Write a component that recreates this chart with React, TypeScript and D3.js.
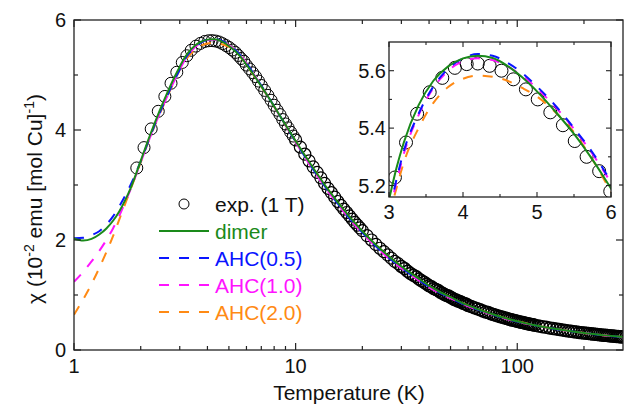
import React from 'react';
import * as d3 from 'd3';

// ---- experimental data (exp. 1 T) ----
const expT = [1.92, 2.07, 2.23, 2.40, 2.57, 2.74, 2.91, 3.08, 3.23, 3.38, 3.55, 3.72, 3.89, 4.05, 4.20, 4.36, 4.52, 4.68, 4.85, 5.01, 5.18, 5.35, 5.51, 5.67, 5.84, 5.99,
  6.2, 6.4, 6.6, 6.8, 7.0, 7.25, 7.5, 7.75, 8.0, 8.25, 8.5, 8.75, 9.0, 9.25, 9.5, 9.75, 10,
  10.5, 11, 11.5, 12, 12.5, 13, 13.5, 14, 14.5, 15, 15.5, 16, 16.5, 17, 17.5, 18, 18.5, 19, 19.5, 20,
  21, 22, 23, 24, 25, 26, 27, 28, 29, 30, 31, 32, 33, 34, 35, 36, 37, 38, 39, 40,
  41, 42, 43, 44, 45, 46, 47, 48, 49, 50, 51, 52, 53, 54, 55, 56, 57, 58, 59, 60,
  62, 64, 66, 68, 70, 72, 74, 76, 78, 80, 82, 84, 86, 88, 90, 92, 94, 96, 98, 100,
  102, 104, 106, 108, 110, 112, 114, 116, 118, 120,
  125, 130, 135, 140, 145, 150, 155, 160, 165, 170, 175, 180, 185, 190, 195, 200,
  205, 210, 215, 220, 225, 230, 235, 240, 245, 250, 255, 260, 265, 270, 275, 280, 285, 290, 295, 300];
const expChi = [3.31, 3.68, 4.02, 4.34, 4.61, 4.85, 5.05, 5.228, 5.35, 5.45, 5.525, 5.575, 5.61, 5.623, 5.625, 5.617, 5.60, 5.57, 5.535, 5.50, 5.455, 5.41, 5.355, 5.30, 5.25, 5.18,
  5.11, 5.04, 4.97, 4.89, 4.81, 4.72, 4.63, 4.54, 4.45, 4.36, 4.28, 4.19, 4.11, 4.04, 3.96, 3.89, 3.82,
  3.69, 3.56, 3.44, 3.33, 3.23, 3.13, 3.03, 2.94, 2.86, 2.78, 2.70, 2.63, 2.56, 2.50, 2.44, 2.38, 2.32, 2.27, 2.22, 2.17,
  2.08, 2.00, 1.92, 1.85, 1.79, 1.73, 1.67, 1.61, 1.57, 1.52, 1.48, 1.43, 1.39, 1.36, 1.33, 1.29, 1.26, 1.23, 1.20, 1.17,
  1.15, 1.12, 1.10, 1.08, 1.05, 1.03, 1.01, 0.99, 0.98, 0.96, 0.94, 0.92, 0.91, 0.89, 0.88, 0.87, 0.85, 0.84, 0.83, 0.81,
  0.79, 0.77, 0.75, 0.73, 0.71, 0.69, 0.68, 0.66, 0.646, 0.631, 0.619, 0.605, 0.594, 0.582, 0.571, 0.561, 0.550, 0.541, 0.532, 0.522,
  0.514, 0.506, 0.499, 0.491, 0.484, 0.477, 0.470, 0.463, 0.458, 0.451,
  0.437, 0.424, 0.412, 0.401, 0.391, 0.380, 0.371, 0.363, 0.354, 0.347, 0.340, 0.333, 0.327, 0.320, 0.315, 0.309,
  0.304, 0.299, 0.294, 0.289, 0.285, 0.281, 0.277, 0.274, 0.270, 0.266, 0.262, 0.260, 0.256, 0.253, 0.250, 0.247, 0.244, 0.241, 0.239, 0.236];

// ---- model curves (shared temperature grid) ----
const modelT = [1.0, 1.1, 1.2, 1.3, 1.4, 1.5, 1.6, 1.7, 1.8, 1.9, 2.0, 2.2, 2.4, 2.6, 2.8, 3.0, 3.1, 3.2, 3.4, 3.6, 3.8, 4.0, 4.2, 4.4, 4.6, 4.8, 5.0, 5.25, 5.5, 5.75, 6.0,
  6.5, 7, 7.5, 8, 9, 10, 11, 12, 14, 16, 18, 20, 25, 30, 35, 40, 45, 50, 60, 70, 80, 100, 120, 150, 200, 250, 300];
const dimerChi = [2.03, 1.99, 2.02, 2.10, 2.21, 2.35, 2.52, 2.72, 2.94, 3.19, 3.44, 3.90, 4.29, 4.62, 4.91, 5.15, 5.26, 5.35, 5.48, 5.565, 5.615, 5.643, 5.652, 5.644, 5.617, 5.577, 5.528, 5.457, 5.38, 5.29, 5.19,
  4.99, 4.795, 4.61, 4.43, 4.095, 3.80, 3.54, 3.31, 2.92, 2.615, 2.365, 2.16, 1.78, 1.52, 1.33, 1.17, 1.05, 0.96, 0.81, 0.71, 0.631, 0.522, 0.451, 0.38, 0.309, 0.266, 0.236];
const ahc05Chi = [2.03, 2.04, 2.09, 2.16, 2.28, 2.43, 2.61, 2.80, 3.00, 3.21, 3.43, 3.87, 4.25, 4.57, 4.86, 5.10, 5.22, 5.32, 5.45, 5.545, 5.607, 5.643, 5.658, 5.652, 5.628, 5.592, 5.545, 5.478, 5.40, 5.315, 5.215,
  5.01, 4.81, 4.615, 4.43, 4.09, 3.79, 3.52, 3.285, 2.895, 2.59, 2.34, 2.135, 1.755, 1.495, 1.305, 1.15, 1.035, 0.945, 0.80, 0.70, 0.625, 0.516, 0.448, 0.378, 0.308, 0.265, 0.234];
const ahc10Chi = [1.24, 1.42, 1.61, 1.80, 2.00, 2.21, 2.44, 2.68, 2.92, 3.17, 3.41, 3.86, 4.24, 4.56, 4.85, 5.10, 5.21, 5.31, 5.445, 5.54, 5.60, 5.633, 5.643, 5.637, 5.615, 5.582, 5.538, 5.473, 5.397, 5.31, 5.21,
  5.005, 4.805, 4.61, 4.425, 4.085, 3.78, 3.51, 3.275, 2.885, 2.58, 2.33, 2.125, 1.745, 1.485, 1.295, 1.14, 1.028, 0.94, 0.795, 0.697, 0.622, 0.514, 0.447, 0.378, 0.308, 0.265, 0.234];
const ahc20Chi = [0.64, 0.92, 1.20, 1.49, 1.78, 2.07, 2.37, 2.65, 2.92, 3.17, 3.41, 3.86, 4.23, 4.55, 4.84, 5.09, 5.19, 5.28, 5.40, 5.488, 5.543, 5.572, 5.583, 5.579, 5.565, 5.54, 5.51, 5.455, 5.385, 5.29, 5.18,
  4.985, 4.79, 4.605, 4.425, 4.09, 3.795, 3.535, 3.305, 2.915, 2.61, 2.36, 2.155, 1.775, 1.515, 1.325, 1.165, 1.047, 0.957, 0.808, 0.708, 0.63, 0.521, 0.45, 0.379, 0.309, 0.265, 0.235];

const seriesNames = ['dimer', 'AHC(0.5)', 'AHC(1.0)', 'AHC(2.0)'];
const seriesColors = ['#1a8a1a', '#0a14ff', '#ff14ff', '#ff8a14'];
const seriesData = [dimerChi, ahc05Chi, ahc10Chi, ahc20Chi];
const seriesDashed = [false, true, true, true];

// ticks
const xMajor = [1, 10, 100];
const xMinor = [2, 3, 4, 5, 6, 7, 8, 9, 20, 30, 40, 50, 60, 70, 80, 90, 200];
const yMajor = [0, 2, 4, 6];
const yMinor = [1, 3, 5];
const insetXMajor = [3, 4, 5, 6];
const insetXMinor = [3.5, 4.5, 5.5];
const insetYMajor = [5.2, 5.4, 5.6];
const insetYMinor = [5.3, 5.5];

const FONT = 'Liberation Sans, Arial, Helvetica, sans-serif';
const AX = '#222';

export default function App() {
  const W = 628, H = 405;
  const L = 74, R = 623, T = 20, B = 350;
  const x = d3.scaleLog().domain([1, 300]).range([L, R]);
  const y = d3.scaleLinear().domain([0, 6]).range([B, T]);

  const iL = 389, iR = 611, iT = 42, iB = 197;
  const ix = d3.scaleLinear().domain([3, 6]).range([iL, iR]);
  const iy = d3.scaleLinear().domain([5.16, 5.7]).range([iB, iT]);

  const mainLine = d3.line<[number, number]>().x(d => x(d[0])).y(d => y(d[1])).curve(d3.curveMonotoneX);
  const insetLine = d3.line<[number, number]>().x(d => ix(d[0])).y(d => iy(d[1])).curve(d3.curveMonotoneX);

  const pts = (vals: number[]) => modelT.map((t, i) => [t, vals[i]] as [number, number]).filter(d => d[1] !== undefined);
  const expPts = expT.map((t, i) => [t, expChi[i]] as [number, number]).filter(d => d[1] !== undefined);
  const insetExp = expPts.filter(d => d[0] >= 2.8 && d[0] <= 6.3);
  const insetModel = (vals: number[]) => pts(vals).filter(d => d[0] >= 2.6 && d[0] <= 6.6);

  const drawOrder = [3, 2, 1, 0];
  const legendRows = [204, 231, 258, 285, 312];
  // denser-looking band at high T where the measured points pile up
  const sw = (t: number) => (t >= 30 ? 1.5 : t >= 10 ? 1.2 : 1);

  return (
    <svg width={W} height={H} style={{ position: 'absolute', left: 0, top: 0, background: '#fff' }} fontFamily={FONT}>
      <defs>
        <clipPath id="mainclip"><rect x={L} y={T} width={R - L} height={B - T} /></clipPath>
        <clipPath id="insetclip"><rect x={iL} y={iT} width={iR - iL} height={iB - iT} /></clipPath>
      </defs>
      <rect x={0} y={0} width={W} height={H} fill="#fff" />

      {/* main data */}
      <g clipPath="url(#mainclip)">
        {expPts.map((d, i) => (
          <circle key={i} cx={x(d[0])} cy={y(d[1])} r={6} fill="none" stroke="#000" strokeWidth={sw(d[0])} />
        ))}
        {drawOrder.map(k => (
          <path key={k} d={mainLine(pts(seriesData[k])) || ''} fill="none" stroke={seriesColors[k]} strokeWidth={2}
            strokeDasharray={seriesDashed[k] ? '10,10' : undefined} />
        ))}
      </g>

      {/* main axes frame */}
      <rect x={L} y={T} width={R - L} height={B - T} fill="none" stroke={AX} strokeWidth={1.3} />
      {xMajor.map(v => (
        <g key={'xM' + v}>
          <line x1={x(v)} x2={x(v)} y1={B} y2={B - 7} stroke={AX} strokeWidth={1.2} />
          <line x1={x(v)} x2={x(v)} y1={T} y2={T + 7} stroke={AX} strokeWidth={1.2} />
          <text x={x(v)} y={373} fontSize={20} textAnchor="middle" fill="#111">{v}</text>
        </g>
      ))}
      {xMinor.map(v => (
        <g key={'xm' + v}>
          <line x1={x(v)} x2={x(v)} y1={B} y2={B - 4} stroke={AX} strokeWidth={1.2} />
          <line x1={x(v)} x2={x(v)} y1={T} y2={T + 4} stroke={AX} strokeWidth={1.2} />
        </g>
      ))}
      {yMajor.map(v => (
        <g key={'yM' + v}>
          <line x1={L} x2={L + 7} y1={y(v)} y2={y(v)} stroke={AX} strokeWidth={1.2} />
          <line x1={R} x2={R - 7} y1={y(v)} y2={y(v)} stroke={AX} strokeWidth={1.2} />
          <text x={66} y={y(v) + 7} fontSize={20} textAnchor="end" fill="#111">{v}</text>
        </g>
      ))}
      {yMinor.map(v => (
        <g key={'ym' + v}>
          <line x1={L} x2={L + 4} y1={y(v)} y2={y(v)} stroke={AX} strokeWidth={1.2} />
          <line x1={R} x2={R - 4} y1={y(v)} y2={y(v)} stroke={AX} strokeWidth={1.2} />
        </g>
      ))}

      {/* axis titles */}
      <text x={349} y={400} fontSize={21} textAnchor="middle" fill="#111">Temperature (K)</text>
      <text transform="translate(42,199) rotate(-90)" fontSize={21} textAnchor="middle" fill="#111">
        <tspan>χ (10</tspan>
        <tspan fontSize={14} dy={-8}>-2</tspan>
        <tspan dy={8}> emu [mol Cu]</tspan>
        <tspan fontSize={14} dy={-8}>-1</tspan>
        <tspan dy={8}>)</tspan>
      </text>

      {/* legend */}
      <circle cx={184} cy={legendRows[0]} r={5} fill="none" stroke="#000" strokeWidth={1} />
      <text x={215} y={legendRows[0] + 7.5} fontSize={21} fill="#111">exp. (1 T)</text>
      {seriesNames.map((n, k) => (
        <g key={n}>
          <line x1={159} x2={209} y1={legendRows[k + 1]} y2={legendRows[k + 1]} stroke={seriesColors[k]} strokeWidth={2}
            strokeDasharray={seriesDashed[k] ? '10,10' : undefined} />
          <text x={215} y={legendRows[k + 1] + 7.5} fontSize={21} fill={seriesColors[k]}>{n}</text>
        </g>
      ))}

      {/* inset */}
      <rect x={iL} y={iT} width={iR - iL} height={iB - iT} fill="#fff" />
      <g clipPath="url(#insetclip)">
        {insetExp.map((d, i) => (
          <circle key={i} cx={ix(d[0])} cy={iy(d[1])} r={6.5} fill="none" stroke="#000" strokeWidth={1} />
        ))}
        {drawOrder.map(k => (
          <path key={k} d={insetLine(insetModel(seriesData[k])) || ''} fill="none" stroke={seriesColors[k]} strokeWidth={2}
            strokeDasharray={seriesDashed[k] ? '10,10' : undefined} />
        ))}
      </g>
      <rect x={iL} y={iT} width={iR - iL} height={iB - iT} fill="none" stroke={AX} strokeWidth={1.3} />
      {insetXMajor.map(v => (
        <g key={'ixM' + v}>
          <line x1={ix(v)} x2={ix(v)} y1={iB} y2={iB - 5} stroke={AX} strokeWidth={1.1} />
          <line x1={ix(v)} x2={ix(v)} y1={iT} y2={iT + 5} stroke={AX} strokeWidth={1.1} />
          <text x={ix(v)} y={219} fontSize={20} textAnchor="middle" fill="#111">{v}</text>
        </g>
      ))}
      {insetXMinor.map(v => (
        <g key={'ixm' + v}>
          <line x1={ix(v)} x2={ix(v)} y1={iB} y2={iB - 3} stroke={AX} strokeWidth={1.1} />
          <line x1={ix(v)} x2={ix(v)} y1={iT} y2={iT + 3} stroke={AX} strokeWidth={1.1} />
        </g>
      ))}
      {insetYMajor.map(v => (
        <g key={'iyM' + v}>
          <line x1={iL} x2={iL + 5} y1={iy(v)} y2={iy(v)} stroke={AX} strokeWidth={1.1} />
          <line x1={iR} x2={iR - 5} y1={iy(v)} y2={iy(v)} stroke={AX} strokeWidth={1.1} />
          <text x={386} y={iy(v) + 7} fontSize={20} textAnchor="end" fill="#111">{v.toFixed(1)}</text>
        </g>
      ))}
      {insetYMinor.map(v => (
        <g key={'iym' + v}>
          <line x1={iL} x2={iL + 3} y1={iy(v)} y2={iy(v)} stroke={AX} strokeWidth={1.1} />
          <line x1={iR} x2={iR - 3} y1={iy(v)} y2={iy(v)} stroke={AX} strokeWidth={1.1} />
        </g>
      ))}
    </svg>
  );
}
